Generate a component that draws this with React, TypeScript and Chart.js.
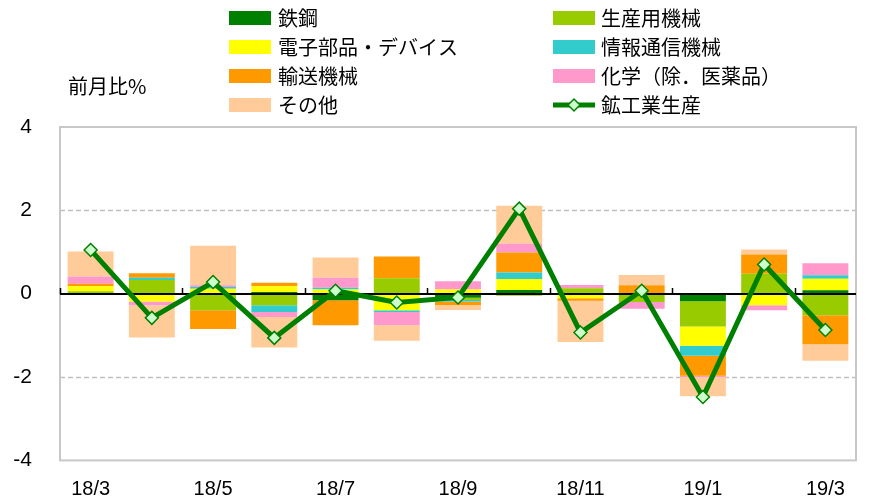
import React, { useEffect, useRef } from "react";
import { Chart, registerables } from "chart.js";
Chart.register(...registerables);

const categories = ["18/3", "18/4", "18/5", "18/6", "18/7", "18/8", "18/9", "18/10", "18/11", "18/12", "19/1", "19/2", "19/3"];
const steel = [0, 0, 0, 0.04, -0.16, -0.02, -0.1, 0.09, 0, 0, -0.18, 0, 0.08];
const machinery = [0.06, 0.33, -0.4, -0.28, 0, 0.37, -0.05, -0.05, 0.13, -0.2, -0.61, 0.48, -0.52];
const electronics = [0.12, -0.19, 0.12, 0.14, 0.1, -0.38, 0.1, 0.26, -0.11, 0, -0.46, -0.28, 0.28];
const ict = [0, 0.05, 0.04, -0.16, 0.04, -0.04, -0.04, 0.16, 0, 0, -0.24, 0, 0.08];
const transport = [0.06, 0.11, -0.45, 0.08, -0.6, 0.52, -0.08, 0.48, -0.06, 0.2, -0.48, 0.46, -0.69];
const chemical = [0.17, -0.09, 0.04, -0.12, 0.24, -0.32, 0.2, 0.21, 0.08, -0.16, -0.03, -0.12, 0.29];
const other = [0.6, -0.77, 0.95, -0.73, 0.49, -0.37, -0.12, 0.91, -0.99, 0.25, -0.46, 0.12, -0.4];
const industrial = [1.05, -0.58, 0.28, -1.06, 0.07, -0.21, -0.09, 2.04, -0.93, 0.07, -2.48, 0.7, -0.87];

const barNames = ["鉄鋼", "生産用機械", "電子部品・デバイス", "情報通信機械", "輸送機械", "化学（除．医薬品）", "その他"];
const lineName = "鉱工業生産";
const yAxisTitle = "前月比%";
const yMin = -4;
const yMax = 4;
const yStep = 2;

const barColors = ["#008000", "#99CC00", "#FFFF00", "#33CCCC", "#FF9900", "#FF99CC", "#FFCC99"];
const lineColor = "#008000";
const markerFill = "#CCFFCC";
const CJK = '"Noto Sans CJK JP", "Noto Sans", sans-serif';
const LAT = '"Liberation Sans", Arial, sans-serif';

const framePlugin = {
  id: "frame",
  beforeDatasetsDraw(chart: any) {
    const { ctx, chartArea: a, scales } = chart;
    const y = scales.y;
    ctx.save();
    ctx.strokeStyle = "#C0C0C0";
    ctx.lineWidth = 1.5;
    ctx.setLineDash([5, 3]);
    [2, -2].forEach((v) => {
      const py = Math.round(y.getPixelForValue(v)) + 0.5;
      ctx.beginPath();
      ctx.moveTo(a.left, py);
      ctx.lineTo(a.right, py);
      ctx.stroke();
    });
    ctx.setLineDash([]);
    ctx.lineWidth = 2;
    ctx.strokeStyle = "#C8C8C8";
    ctx.strokeRect(a.left, a.top, a.right - a.left, a.bottom - a.top);
    ctx.restore();
  },
  beforeDatasetDraw(chart: any, args: any) {
    if (args.index !== 7) return;
    const { ctx, chartArea: a, scales } = chart;
    const y0 = Math.round(scales.y.getPixelForValue(0));
    ctx.save();
    ctx.strokeStyle = "#000";
    ctx.lineWidth = 2;
    ctx.beginPath();
    ctx.moveTo(a.left, y0);
    ctx.lineTo(a.right, y0);
    ctx.stroke();
    const n = categories.length;
    const w = (a.right - a.left) / n;
    ctx.lineWidth = 1.5;
    for (let i = 0; i < n; i += 2) {
      const x = Math.round(a.left + i * w) + 0.5;
      ctx.beginPath();
      ctx.moveTo(x, y0);
      ctx.lineTo(x, y0 - 6);
      ctx.stroke();
    }
    ctx.restore();
  },
  afterDraw(chart: any) {
    const { ctx } = chart;
    ctx.save();
    ctx.font = `20px ${CJK}`;
    ctx.fillStyle = "#000";
    ctx.textBaseline = "middle";
    ctx.textAlign = "left";
    ctx.fillText(yAxisTitle, 68, 86);
    const items = [...barNames.map((n, i) => ({ n, c: barColors[i], line: false })), { n: lineName, c: lineColor, line: true }];
    const rowsY = [18, 47, 76, 105];
    items.forEach((it, i) => {
      const col = i % 2;
      const row = Math.floor(i / 2);
      const rx = col === 0 ? 229 : 553;
      const tx = col === 0 ? 278 : 601;
      const cy = rowsY[row];
      if (it.line) {
        ctx.strokeStyle = it.c;
        ctx.lineWidth = 5;
        ctx.beginPath();
        ctx.moveTo(rx, cy);
        ctx.lineTo(rx + 42, cy);
        ctx.stroke();
        const cx = rx + 21;
        ctx.fillStyle = markerFill;
        ctx.strokeStyle = lineColor;
        ctx.lineWidth = 1.5;
        ctx.beginPath();
        ctx.moveTo(cx, cy - 6);
        ctx.lineTo(cx + 6, cy);
        ctx.lineTo(cx, cy + 6);
        ctx.lineTo(cx - 6, cy);
        ctx.closePath();
        ctx.fill();
        ctx.stroke();
      } else {
        ctx.fillStyle = it.c;
        ctx.fillRect(rx, cy - 7, 42, 14);
      }
      ctx.fillStyle = "#000";
      ctx.fillText(it.n, tx, cy);
    });
    ctx.restore();
  },
};

export default function App() {
  const ref = useRef<HTMLCanvasElement>(null);
  useEffect(() => {
    if (!ref.current) return;
    const barSeries = [steel, machinery, electronics, ict, transport, chemical, other];
    const chart = new Chart(ref.current, {
      type: "bar",
      data: {
        labels: categories,
        datasets: [
          ...barSeries.map((d, i) => ({
            type: "bar" as const,
            label: barNames[i],
            data: d,
            backgroundColor: barColors[i],
            borderWidth: 0,
            stack: "s",
            order: 1,
            barPercentage: 0.75,
            categoryPercentage: 1,
          })),
          {
            type: "line" as const,
            label: lineName,
            data: industrial,
            borderColor: lineColor,
            borderWidth: 5,
            pointStyle: "rectRot",
            pointRadius: 6.5,
            pointBackgroundColor: markerFill,
            pointBorderColor: lineColor,
            pointBorderWidth: 1.5,
            order: 0,
            stack: "line",
          } as any,
        ],
      },
      options: {
        responsive: false,
        animation: false,
        devicePixelRatio: 1,
        layout: { padding: { top: 127, right: 21, left: 0, bottom: 0 } },
        plugins: { legend: { display: false }, tooltip: { enabled: false } },
        scales: {
          x: {
            stacked: true,
            grid: { display: false, drawTicks: false },
            border: { display: false },
            ticks: {
              autoSkip: false,
              maxRotation: 0,
              minRotation: 0,
              padding: 17,
              color: "#000",
              font: { size: 20, family: LAT },
              callback: (_v: any, i: number) => (i % 2 === 0 ? categories[i] : ""),
            },
            afterFit: (s: any) => {
              s.height = 39;
            },
          },
          y: {
            stacked: true,
            min: yMin,
            max: yMax,
            grid: { display: false, drawTicks: false },
            border: { display: false },
            ticks: {
              stepSize: yStep,
              padding: 28,
              color: "#000",
              font: { size: 21, family: LAT },
            },
            afterFit: (s: any) => {
              s.width = 60;
            },
          },
        },
      },
      plugins: [framePlugin],
    });
    return () => chart.destroy();
  }, []);
  return (
    <div style={{ position: "fixed", left: 0, top: 0, width: 877, height: 501, background: "#fff" }}>
      <canvas ref={ref} width={877} height={501} style={{ width: 877, height: 501, display: "block" }} />
    </div>
  );
}
